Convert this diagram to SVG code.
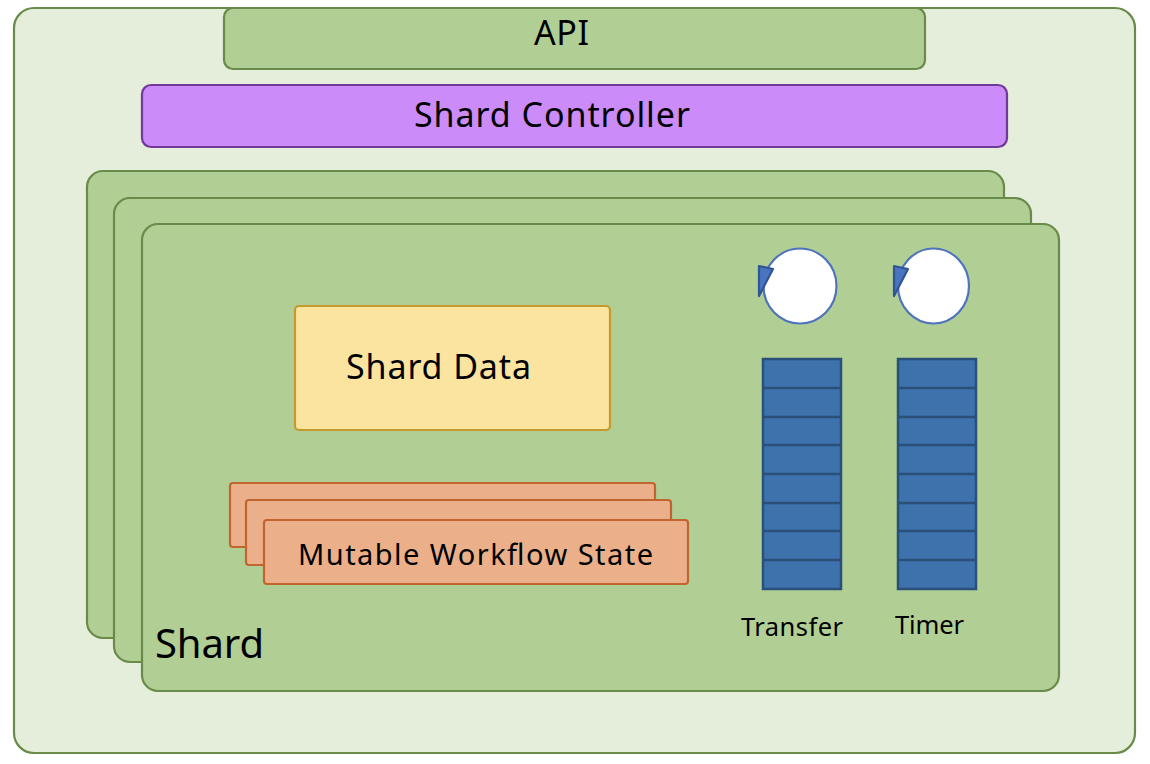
<svg xmlns="http://www.w3.org/2000/svg" width="1150" height="764" viewBox="0 0 1150 764">
<style>
text{font-family:"Noto Sans","Open Sans","DejaVu Sans",sans-serif;fill:#000;text-anchor:middle}
.g{fill:#b1cf95;stroke:#688b49;stroke-width:2.200}
.o{fill:#ebb08a;stroke:#c0652f;stroke-width:2.200}
.q{fill:#3e72ad;stroke:#2a4f78;stroke-width:2.500}
.c{fill:#fff;stroke:#4f74bb;stroke-width:2.200}
.t{fill:#4a74bf;stroke:#2f5597;stroke-width:2.200;stroke-linejoin:round}
.l{stroke:#2a4f78;stroke-width:2.500;fill:none}
</style>
<rect width="1150" height="764" fill="#fff"/>
<g id="outer"><rect x="14" y="8" width="1121" height="745" rx="20" fill="#e5eedb" stroke="#688b49" stroke-width="2.200"/></g>
<g id="api"><rect class="g" x="224" y="8" width="701" height="61" rx="9"/><text x="561.500" y="45" font-size="34" textLength="55">API</text></g>
<g id="shard-controller"><rect x="142" y="85" width="865" height="62" rx="9" fill="#cb8bf9" stroke="#6f3a99" stroke-width="2.200"/><text x="552" y="127" font-size="34" textLength="276">Shard Controller</text></g>
<g id="shard-back-2"><rect class="g" x="87" y="171" width="917" height="467" rx="16"/></g>
<g id="shard-back-1"><rect class="g" x="114" y="198" width="917" height="464" rx="16"/></g>
<g id="shard"><rect class="g" x="142" y="224" width="917" height="467" rx="16"/><text x="209.500" y="658" font-size="40" textLength="109">Shard</text></g>
<g id="shard-data"><rect x="295" y="306" width="315" height="124" rx="4" fill="#fbe3a0" stroke="#c49a2c" stroke-width="2.200"/><text x="438.500" y="379" font-size="34" textLength="185">Shard Data</text></g>
<g id="state-3"><rect class="o" x="230" y="483" width="425" height="64" rx="3"/></g>
<g id="state-2"><rect class="o" x="246" y="500" width="425" height="65" rx="3"/></g>
<g id="state-1"><rect class="o" x="264" y="520" width="424" height="64" rx="3"/><text x="475.500" y="565" font-size="29" textLength="355">Mutable Workflow State</text></g>
<g id="transfer-loop"><ellipse class="c" cx="800" cy="286" rx="36.500" ry="37.500"/><path class="t" d="M759 266L773 269L759 296Z"/></g>
<g id="timer-loop"><ellipse class="c" cx="933.500" cy="286" rx="35.500" ry="37.500"/><path class="t" d="M894 266L908 269L894 296Z"/></g>
<g id="transfer-queue"><rect class="q" x="763" y="359" width="78" height="230"/><path class="l" d="M763 388H841M763 417H841M763 445H841M763 474H841M763 503H841M763 531H841M763 560H841"/><text x="792" y="636" font-size="25.500" textLength="102">Transfer</text></g>
<g id="timer-queue"><rect class="q" x="898" y="359" width="78" height="230"/><path class="l" d="M898 388H976M898 417H976M898 445H976M898 474H976M898 503H976M898 531H976M898 560H976"/><text x="929.500" y="634" font-size="25.500" textLength="69">Timer</text></g>
<g id="connectors"/>
</svg>
